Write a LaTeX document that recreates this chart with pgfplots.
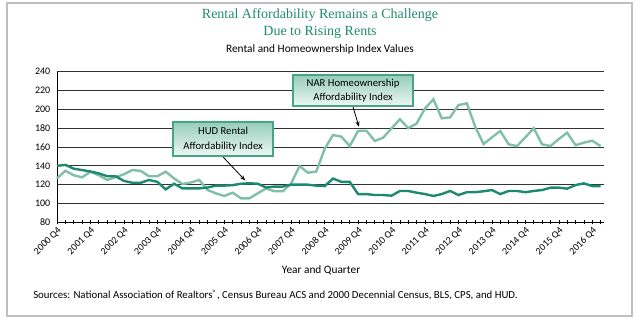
\documentclass[border=0pt]{standalone}
\usepackage{pgfplots}
\pgfplotsset{compat=1.18}
\usepackage{fontspec}
\setmainfont{Carlito}
\newfontfamily\titlefont{Liberation Serif}
\usetikzlibrary{arrows.meta}
\definecolor{darkteal}{RGB}{28,138,112}
\definecolor{lightteal}{RGB}{128,192,168}
\definecolor{titleteal}{RGB}{30,140,110}
\definecolor{boxborder}{RGB}{70,165,135}
\definecolor{boxtop}{RGB}{150,206,186}
\definecolor{boxbot}{RGB}{238,247,244}

\pgfplotstableread{
q v
0 140
1 141
2 137
3 135.5
4 134
5 132
6 129
7 129
8 124
9 122
10 122
11 125
12 123
13 115
14 121
15 116
16 116
17 116
18 117
19 119
20 119
21 119.5
22 121
23 121.5
24 121
25 117
26 118
27 118
28 120
29 120
30 120
31 119
32 118.5
33 126.5
34 123
35 123
36 110
37 110
38 109
39 109
40 108.3
41 113.3
42 113.3
43 111.5
44 110
45 108
46 110
47 113.3
48 109
49 112
50 112
51 113
52 114.3
53 110
54 113.3
55 113.3
56 112
57 113.3
58 114.3
59 116.8
60 116.8
61 115.8
62 119.6
63 121.4
64 118.5
65 118.5
}\hud

\pgfplotstableread{
q v
0 126.7
1 134.8
2 130
3 127.8
4 133.8
5 130
6 125
7 128
8 131
9 135.6
10 134.6
11 129
12 129
13 133.8
14 126.7
15 120.7
16 122.3
17 125
18 114.3
19 110.8
20 108
21 111.5
22 105.5
23 105.5
24 110.8
25 116
26 113
27 113
28 121.4
29 139.8
30 132.7
31 134
32 158
33 172.8
34 171
35 161
36 177
37 177.3
38 166.4
39 170
40 179.9
41 189.5
42 180
43 185
44 201
45 210.7
46 190.5
47 191.5
48 204.6
49 206.4
50 181.6
51 163.2
52 170.3
53 177
54 162.9
55 161
56 170.3
57 180
58 162.9
59 161
60 168.5
61 175.2
62 162
63 164.6
64 166.7
65 161
}\nar

\begin{document}
\begin{tikzpicture}
\path[use as bounding box] (0,0) rectangle (480pt,242.25pt);
\draw[black!25, line width=0.8pt] (5.25pt,5.25pt) rectangle (474pt,240pt);
\node[font=\titlefont\fontsize{10.5}{12}\selectfont, text=titleteal] at (240pt,231pt) {Rental Affordability Remains a Challenge};
\node[font=\titlefont\fontsize{10.5}{12}\selectfont, text=titleteal] at (240pt,218.25pt) {Due to Rising Rents};
\node[font=\fontsize{8.5}{10}\selectfont] at (240pt,205.5pt) {Rental and Homeownership Index Values};
\node[font=\fontsize{8.5}{10}\selectfont] at (240.75pt,39.75pt) {Year and Quarter};
\node[font=\fontsize{8.1}{9.5}\selectfont, anchor=west, inner sep=0pt] at (24.75pt,21pt) {Sources: National Association of Realtors\textsuperscript{\textregistered}, Census Bureau ACS and 2000 Decennial Census, BLS, CPS, and HUD.};
\begin{axis}[
  at={(42.75pt,75.5pt)}, anchor=south west, scale only axis,
  width=410.25pt, height=112.95pt,
  xmin=0, xmax=65.4, ymin=80, ymax=240,
  ytick={80,100,...,240},
  xtick={0,4,...,64},
  xticklabels={2000 Q4,2001 Q4,2002 Q4,2003 Q4,2004 Q4,2005 Q4,2006 Q4,2007 Q4,2008 Q4,2009 Q4,2010 Q4,2011 Q4,2012 Q4,2013 Q4,2014 Q4,2015 Q4,2016 Q4},
  minor xtick={0,...,65},
  axis x line=bottom, axis y line=left,
  axis line style={-, black, line width=0.7pt},
  ymajorgrids, grid style={black!80, line width=0.6pt},
  xtick align=center, major tick length=3pt, minor tick length=3pt,
  xtick style={black, line width=0.5pt},
  ytick style={draw=none},
  x tick label style={rotate=45, anchor=north east, font=\fontsize{7.4}{8}\selectfont, inner sep=1pt},
  y tick label style={font=\fontsize{7.5}{9}\selectfont},
  /pgf/number format/assume math mode=true,
  clip=false,
]
\addplot[lightteal, line width=1.8pt, no markers] table[x=q,y=v] {\nar};
\addplot[darkteal, line width=1.8pt, no markers] table[x=q,y=v] {\hud};
\draw[-{Stealth[length=4pt]}, line width=0.6pt] (axis cs:19.86,149.4) -- (axis cs:22.5,124.5);
\draw[-{Stealth[length=4pt]}, line width=0.6pt] (axis cs:35.4,202.4) -- (axis cs:36.1,181.5);
\node[draw=boxborder, line width=1pt, top color=boxtop, bottom color=boxbot, align=center,
  minimum width=75pt, minimum height=25.5pt, inner sep=1pt,
  font=\fontsize{8}{11}\selectfont] at (axis cs:19.86,168.5) {HUD Rental\\Affordability Index};
\node[draw=boxborder, line width=1pt, top color=boxtop, bottom color=boxbot, align=center,
  minimum width=90pt, minimum height=23.25pt, inner sep=1pt,
  font=\fontsize{8}{11}\selectfont] at (axis cs:35.4,220) {NAR Homeownership\\Affordability Index};
\end{axis}
\end{tikzpicture}
\end{document}
